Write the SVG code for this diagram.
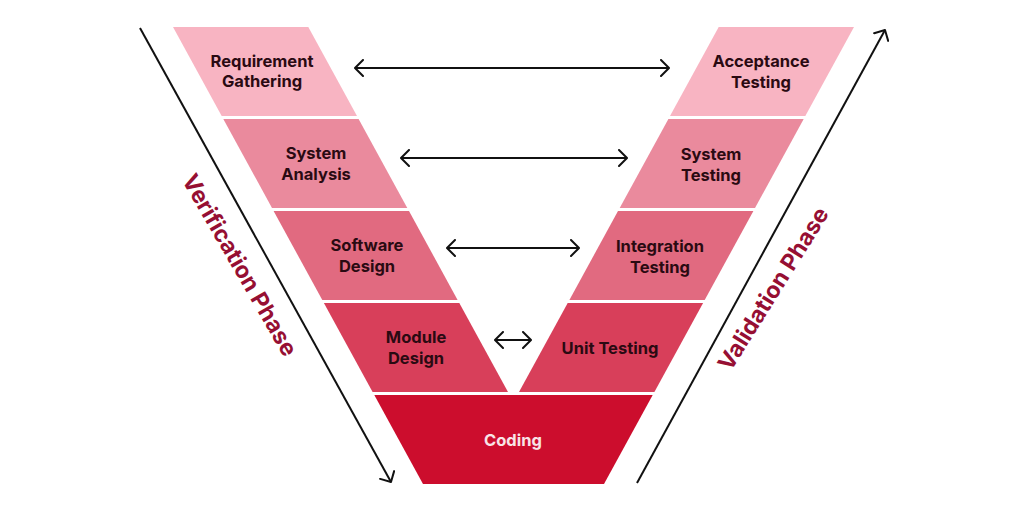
<svg xmlns="http://www.w3.org/2000/svg" width="1024" height="512" viewBox="0 0 1024 512">
  <defs>
    <style>
      .lbl { font-family: Inter, "Liberation Sans", Arial, sans-serif; font-weight: 700; font-size: 16.5px; fill: #2a0a12; text-anchor: middle; }
      .code { fill: #f8e4e7; }
      .phase { font-family: Inter, "Liberation Sans", Arial, sans-serif; font-weight: 700; font-size: 23px; fill: #960f33; text-anchor: middle; }
      .b1 { fill: #f8b4c2; }
      .b2 { fill: #ea8a9d; }
      .b3 { fill: #e16a80; }
      .b4 { fill: #d83f5a; }
      .b5 { fill: #cc0d2d; }
      .conn { stroke: #111; stroke-width: 2; fill: none; }
    </style>
    <marker id="chev" viewBox="0 0 10 18" refX="9" refY="9" markerWidth="10" markerHeight="18" markerUnits="userSpaceOnUse" orient="auto-start-reverse">
      <path d="M1,1 L9,9 L1,17" fill="none" stroke="#111" stroke-width="2" stroke-linecap="round" stroke-linejoin="round"/>
    </marker>
  </defs>
  <rect width="1024" height="512" fill="#ffffff"/>

  <g id="requirement-gathering">
    <polygon class="b1" points="173,27 308.3,27 357,116 221.7,116"/>
    <text class="lbl" x="262" y="67">Requirement</text>
    <text class="lbl" x="262" y="87">Gathering</text>
  </g>
  <g id="system-analysis">
    <polygon class="b2" points="223.3,119 358.6,119 407.3,208 272,208"/>
    <text class="lbl" x="316" y="159">System</text>
    <text class="lbl" x="316" y="180">Analysis</text>
  </g>
  <g id="software-design">
    <polygon class="b3" points="273.6,211 409,211 457.6,300 322.3,300"/>
    <text class="lbl" x="367" y="251">Software</text>
    <text class="lbl" x="367" y="272">Design</text>
  </g>
  <g id="module-design">
    <polygon class="b4" points="323.9,303 459.3,303 508,392 372.6,392"/>
    <text class="lbl" x="416" y="343">Module</text>
    <text class="lbl" x="416" y="364">Design</text>
  </g>
  <g id="coding">
    <polygon class="b5" points="374.3,395 652.7,395 604,484 423,484"/>
    <text class="lbl code" x="513" y="446">Coding</text>
  </g>
  <g id="unit-testing">
    <polygon class="b4" points="567.7,303 703.1,303 654.4,392 519,392"/>
    <text class="lbl" x="610" y="354">Unit Testing</text>
  </g>
  <g id="integration-testing">
    <polygon class="b3" points="618,211 753.4,211 704.7,300 569.4,300"/>
    <text class="lbl" x="660" y="252">Integration</text>
    <text class="lbl" x="660" y="273">Testing</text>
  </g>
  <g id="system-testing">
    <polygon class="b2" points="668.4,119 803.7,119 755,208 619.7,208"/>
    <text class="lbl" x="711" y="160">System</text>
    <text class="lbl" x="711" y="181">Testing</text>
  </g>
  <g id="acceptance-testing">
    <polygon class="b1" points="718.7,27 854,27 805.3,116 670,116"/>
    <text class="lbl" x="761" y="67">Acceptance</text>
    <text class="lbl" x="761" y="88">Testing</text>
  </g>

  <g id="connectors">
    <line class="conn" x1="355" y1="68" x2="669" y2="68" marker-start="url(#chev)" marker-end="url(#chev)"/>
    <line class="conn" x1="401" y1="158" x2="627" y2="158" marker-start="url(#chev)" marker-end="url(#chev)"/>
    <line class="conn" x1="447" y1="248" x2="579" y2="248" marker-start="url(#chev)" marker-end="url(#chev)"/>
    <line class="conn" x1="495" y1="340" x2="531" y2="340" marker-start="url(#chev)" marker-end="url(#chev)"/>
    <line class="conn" x1="140" y1="28" x2="391" y2="482" marker-end="url(#chev)"/>
    <line class="conn" x1="637" y1="483" x2="885" y2="30" marker-end="url(#chev)"/>
  </g>

  <g id="phase-labels">
    <text class="phase" transform="translate(233,269) rotate(60)">Verification Phase</text>
    <text class="phase" transform="translate(780,293) rotate(-58)">Validation Phase</text>
  </g>
</svg>
